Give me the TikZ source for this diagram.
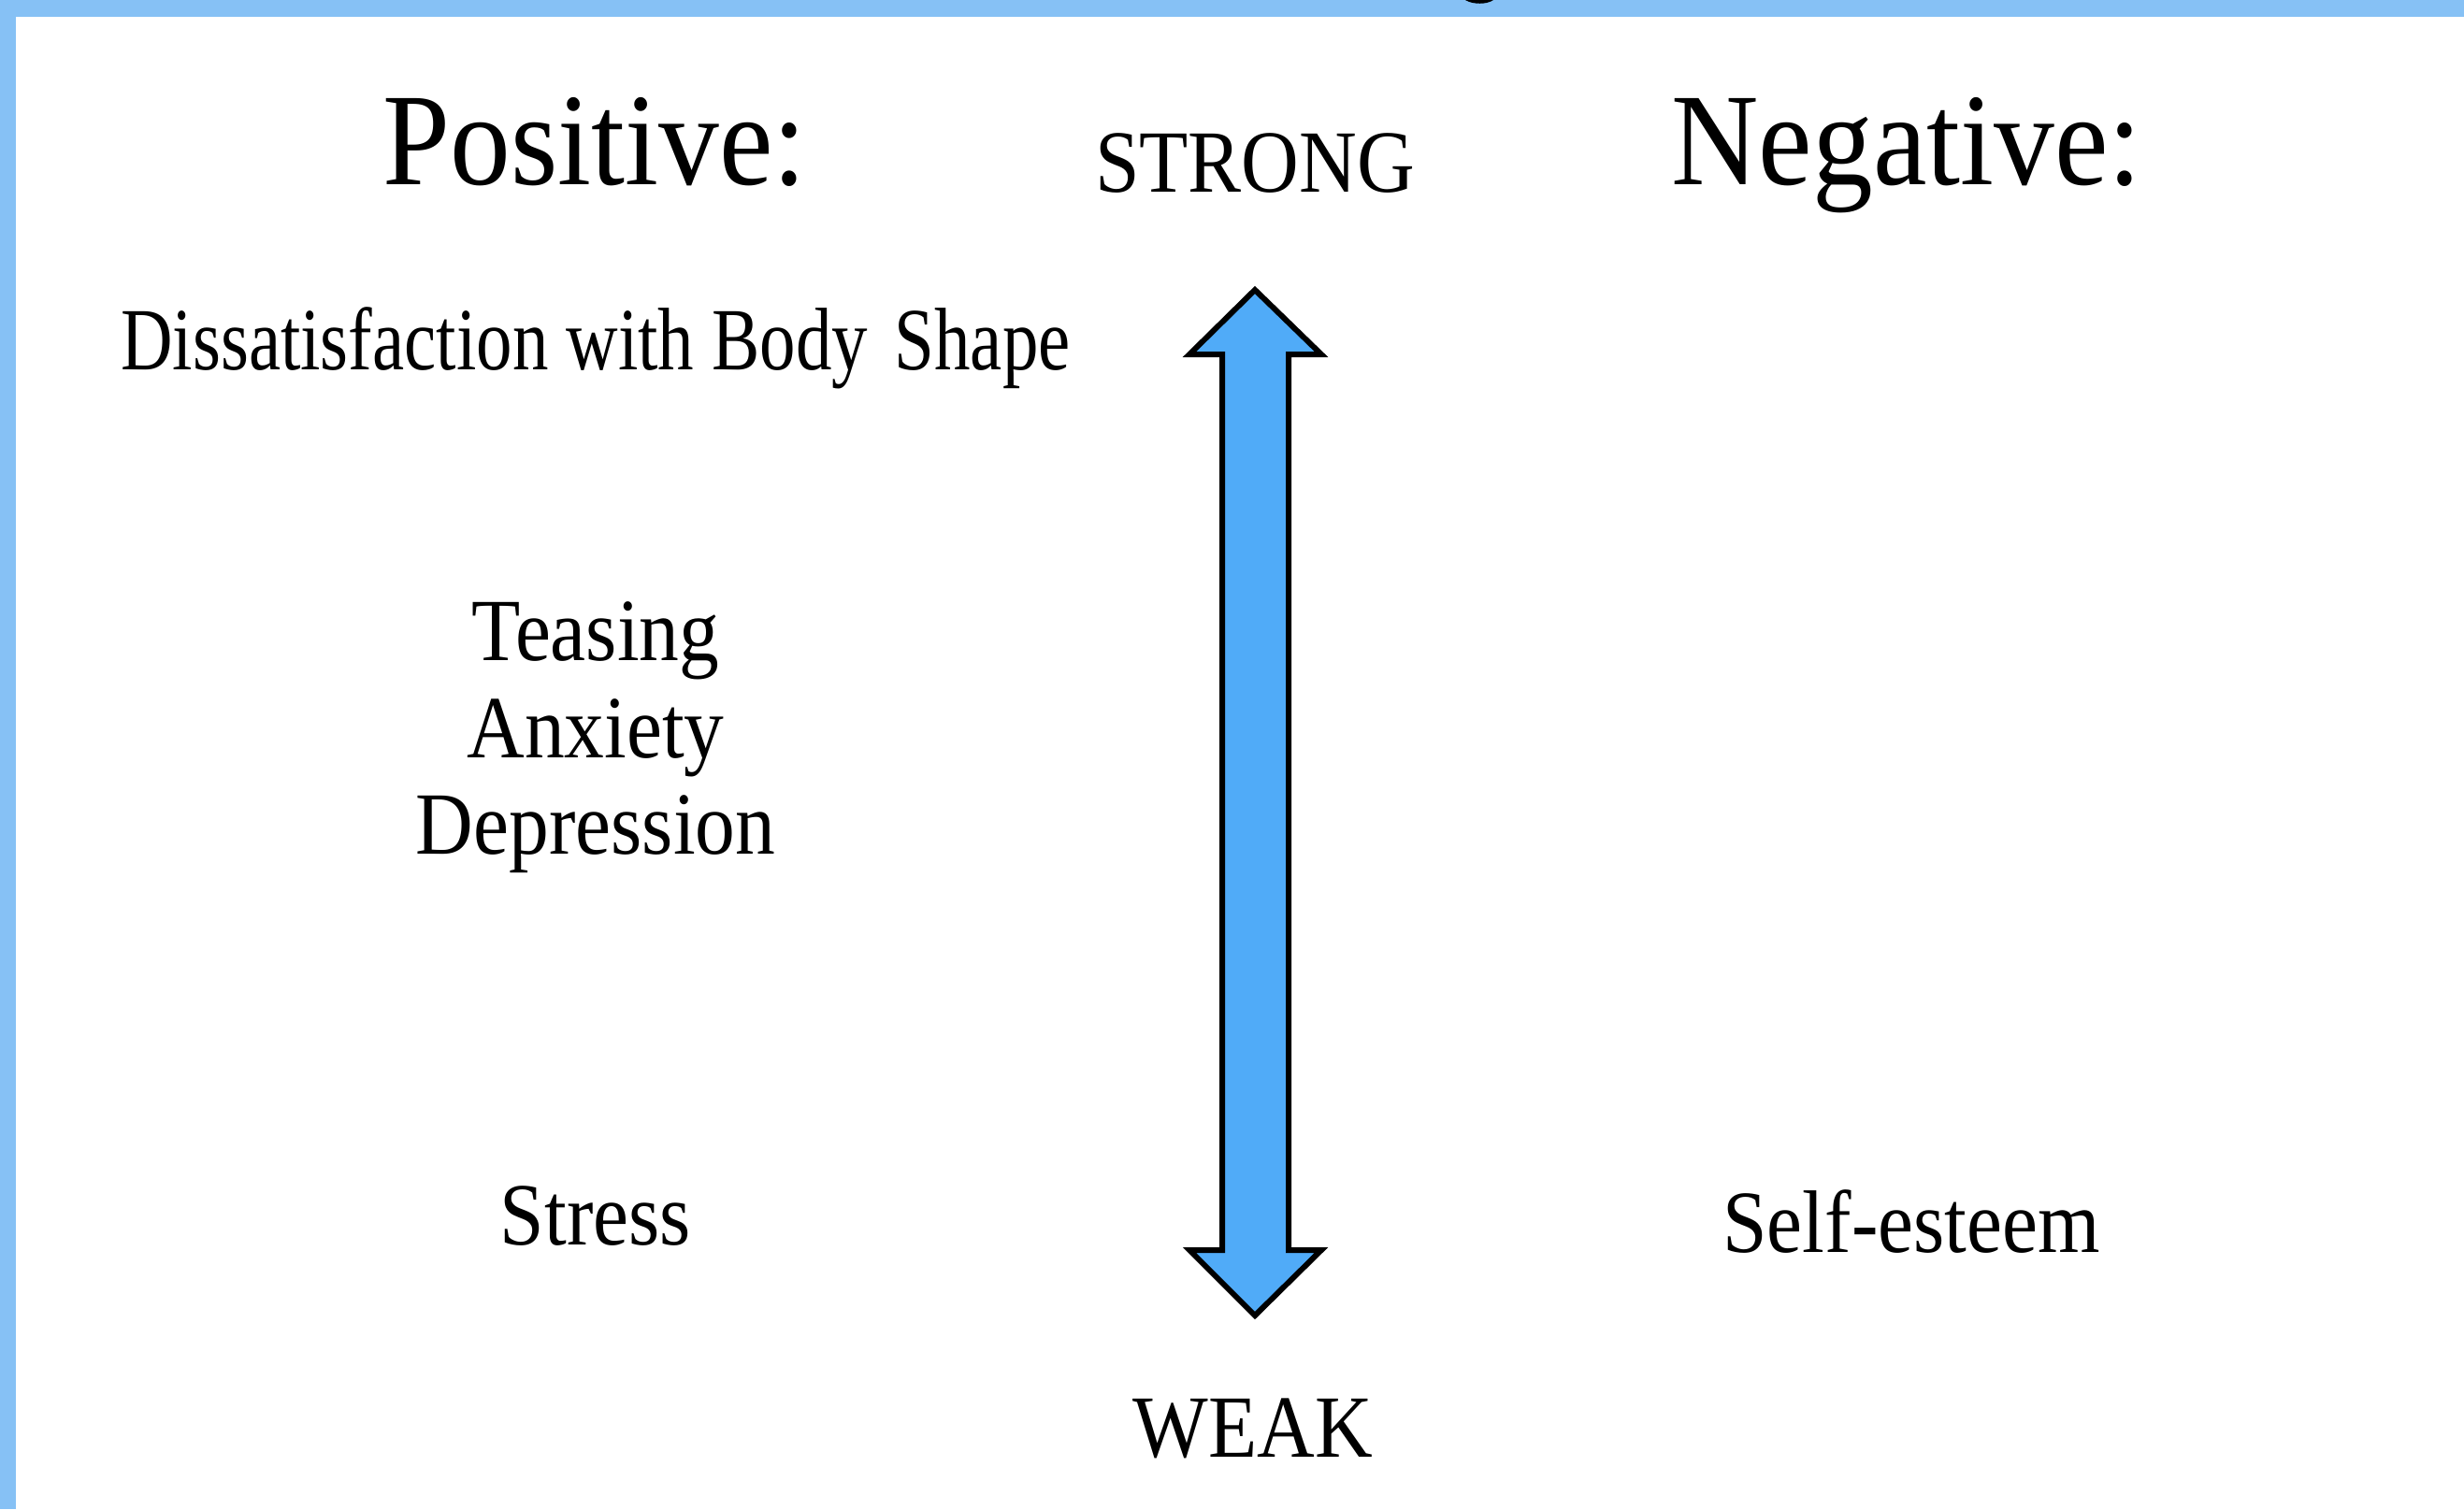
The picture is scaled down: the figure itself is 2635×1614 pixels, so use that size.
\documentclass[tikz,border=0pt]{standalone}
\usepackage{fontspec}
\setmainfont{Liberation Serif}
\definecolor{bandblue}{RGB}{134,193,245}
\definecolor{arrowblue}{RGB}{80,171,248}
\newcommand{\sq}[1]{\scalebox{0.9}[1]{#1}}
\newcommand{\sqh}[1]{\scalebox{0.92}[1]{#1}}
\begin{document}
\begin{tikzpicture}[x=0.01cm,y=-0.01cm,
  head/.style={anchor=base, inner sep=0pt, font=\fontsize{40}{40}\selectfont},
  body/.style={anchor=base, inner sep=0pt, font=\fontsize{27}{27}\selectfont},
  bigarrow/.style={draw=black, line width=1.7pt, fill=arrowblue, line join=miter}]
\useasboundingbox (0,0) rectangle (2635,1614);
% frame bands
\fill[bandblue] (0,0) rectangle (2635,18);
\fill[bandblue] (0,0) rectangle (17,1614);
% clipped title fragment
\fill[black] (1567,0) .. controls (1575,5) and (1590,5) .. (1597,0) -- cycle;
% headings
\node[head] (pos) at (636,197) {\sqh{Positive:}};
\node[head] (neg) at (2039,197) {\sqh{Negative:}};
\node[body] (strong) at (1342,205) {\sq{STRONG}};
\node[body] (weak) at (1340,1558) {\sq{WEAK}};
% positive items
\node[body] (dis) at (637,395) {\scalebox{0.81}[1]{Dissatisfaction with Body\hspace{0.12em} Shape}};
\node[body] (teas) at (637,706) {\sq{Teasing}};
\node[body] (anx) at (637,810) {\sq{Anxiety}};
\node[body] (dep) at (637,913) {\sq{Depression}};
\node[body] (stress) at (637,1331) {\sq{Stress}};
% negative items
\node[body] (self) at (2044,1339) {\sq{Self-esteem}};
% double arrow
\draw[bigarrow] (1342,310) -- (1413,379) -- (1378,379) -- (1378,1337)
  -- (1413,1337) -- (1342,1407) -- (1272,1337) -- (1307,1337)
  -- (1307,379) -- (1272,379) -- cycle;
\end{tikzpicture}
\end{document}
